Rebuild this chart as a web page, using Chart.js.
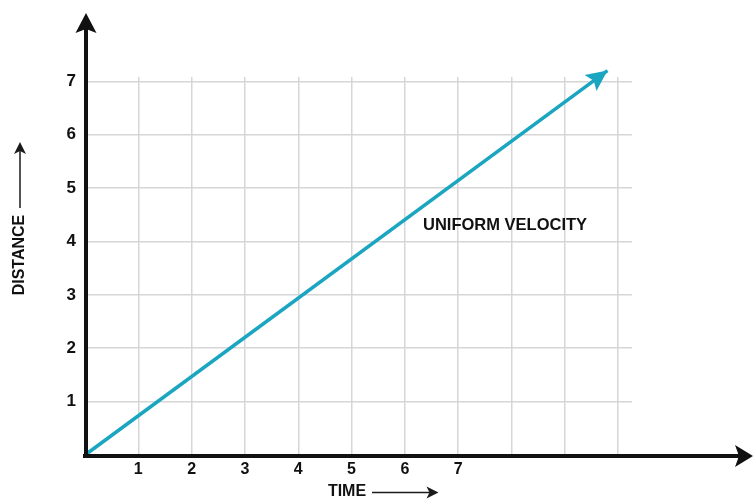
<!DOCTYPE html>
<html>
<head>
<meta charset="utf-8">
<script src="https://cdn.jsdelivr.net/npm/chart.js@4.4.1/dist/chart.umd.min.js"></script>
<style>
  html, body { margin: 0; padding: 0; background: #fff; }
  #wrap { width: 753px; height: 499px; }
</style>
</head>
<body>
<div id="wrap"><canvas id="motionChart" width="753" height="499"></canvas></div>
<script>
// Distance-time graph: a body moving with uniform velocity
const timeTicks = [1, 2, 3, 4, 5, 6, 7];
const distanceTicks = [1, 2, 3, 4, 5, 6, 7];
const timeValues = [0, 9.8];
const distanceValues = [0, 7.2];
const lineLabel = 'UNIFORM VELOCITY';
const xTitle = 'TIME';
const yTitle = 'DISTANCE';

const INK = '#111';
const LINE_COLOR = '#1aa5c0';
const BOLD = '"Liberation Sans", Arial, sans-serif';

// filled arrow head with a little notch at the back
function arrowHead(ctx, x, y, angle, len, half, notch) {
    ctx.save();
    ctx.translate(x, y);
    ctx.rotate(angle);
    ctx.beginPath();
    ctx.moveTo(0, 0);
    ctx.lineTo(-len, -half);
    ctx.lineTo(-len + notch, 0);
    ctx.lineTo(-len, half);
    ctx.closePath();
    ctx.fill();
    ctx.restore();
}

const decorations = {
    id: 'decorations',
    afterDatasetsDraw(chart) {
        const ctx = chart.ctx;
        const xs = chart.scales.x, ys = chart.scales.y;
        const x0 = xs.getPixelForValue(0), y0 = ys.getPixelForValue(0);
        ctx.save();

        // arrow on the end of the velocity line
        const n = timeValues.length - 1;
        const px = xs.getPixelForValue(timeValues[n]), py = ys.getPixelForValue(distanceValues[n]);
        const qx = xs.getPixelForValue(timeValues[n - 1]), qy = ys.getPixelForValue(distanceValues[n - 1]);
        ctx.fillStyle = LINE_COLOR;
        arrowHead(ctx, px, py, Math.atan2(py - qy, px - qx), 21, 10, 4);

        // main axes
        ctx.strokeStyle = INK;
        ctx.fillStyle = INK;
        ctx.lineWidth = 4;
        ctx.beginPath();
        ctx.moveTo(x0 - 2, y0 + 1);
        ctx.lineTo(740, y0 + 1);
        ctx.moveTo(x0 + 1, y0 + 3);
        ctx.lineTo(x0 + 1, 28);
        ctx.stroke();
        arrowHead(ctx, 753, y0 + 1, 0, 18, 11, 4);
        arrowHead(ctx, x0 + 1, 13, -Math.PI / 2, 20, 10.5, 4);

        // annotation
        ctx.font = 'bold 16.5px ' + BOLD;
        ctx.textBaseline = 'middle';
        ctx.textAlign = 'left';
        ctx.fillText(lineLabel, 423, 225);

        // axis titles with their arrows
        ctx.font = 'bold 16px ' + BOLD;
        ctx.textAlign = 'center';
        ctx.fillText(xTitle, 347, 492);
        ctx.save();
        ctx.translate(19.5, 255);
        ctx.rotate(-Math.PI / 2);
        ctx.fillText(yTitle, 0, 0);
        ctx.restore();

        ctx.lineWidth = 1.5;
        ctx.strokeStyle = '#1a1a1a';
        ctx.fillStyle = '#1a1a1a';
        ctx.beginPath();
        ctx.moveTo(372, 492.5);
        ctx.lineTo(430, 492.5);
        ctx.moveTo(20, 208);
        ctx.lineTo(20, 150);
        ctx.stroke();
        arrowHead(ctx, 438.5, 492.5, 0, 12, 6, 3);
        arrowHead(ctx, 20, 142, -Math.PI / 2, 12, 6, 3);

        ctx.restore();
    }
};

const gridStyle = { color: '#d6d6d6', lineWidth: 1.5, drawTicks: false };
// one grid line per whole unit up to the end of the grid
const wholeTicks = (scale) => {
    scale.ticks = Array.from({ length: Math.floor(scale.max) + 1 }, (_, i) => ({ value: i }));
};

new Chart(document.getElementById('motionChart'), {
    type: 'scatter',
    data: {
        datasets: [{
            label: lineLabel,
            data: timeValues.map((t, i) => ({ x: t, y: distanceValues[i] })),
            showLine: true,
            borderColor: LINE_COLOR,
            borderWidth: 3.5,
            pointRadius: 0,
            clip: false
        }]
    },
    options: {
        responsive: false,
        animation: false,
        layout: { padding: { left: 0, right: 121, top: 77, bottom: 0 } },
        plugins: { legend: { display: false }, tooltip: { enabled: false } },
        scales: {
            x: {
                type: 'linear',
                min: 0,
                max: 10.26,
                afterBuildTicks: wholeTicks,
                afterFit: (scale) => { scale.height = 44; },
                border: { display: false },
                grid: gridStyle,
                ticks: {
                    padding: 5,
                    color: INK,
                    font: { family: BOLD, size: 16, weight: 'bold' },
                    callback: (v) => timeTicks.includes(v) ? String(v) : ''
                }
            },
            y: {
                type: 'linear',
                min: 0,
                max: 7.08,
                afterBuildTicks: wholeTicks,
                afterFit: (scale) => { scale.width = 85; },
                border: { display: false },
                grid: gridStyle,
                ticks: {
                    padding: 9,
                    color: INK,
                    font: { family: BOLD, size: 17, weight: 'bold' },
                    callback: (v) => distanceTicks.includes(v) ? String(v) : ''
                }
            }
        }
    },
    plugins: [decorations]
});
</script>
</body>
</html>
